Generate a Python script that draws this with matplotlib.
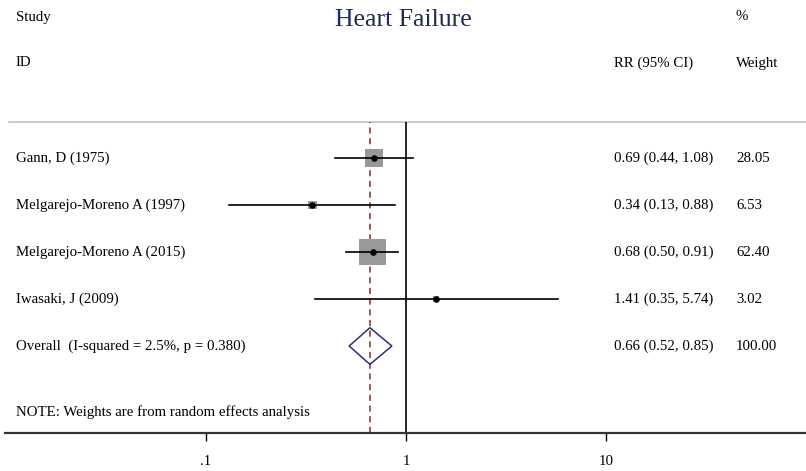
# Forest plot - Heart Failure
import numpy as np
import matplotlib.pyplot as plt
from matplotlib import transforms

plt.rcParams['font.family'] = ['Liberation Serif', 'DejaVu Serif']

studies = ["Gann, D (1975)", "Melgarejo-Moreno A (1997)",
           "Melgarejo-Moreno A (2015)", "Iwasaki, J (2009)"]
rr = [0.69, 0.34, 0.68, 1.41]
lo = [0.44, 0.13, 0.50, 0.35]
hi = [1.08, 0.88, 0.91, 5.74]
weights = [28.05, 6.53, 62.40, 3.02]

overall_label = "Overall  (I-squared = 2.5%, p = 0.380)"
overall_rr, overall_lo, overall_hi = 0.66, 0.52, 0.85
overall_weight = 100.00

ticks = [0.1, 1, 10]
tick_labels = [".1", "1", "10"]

W, H = 806, 471
fig = plt.figure(figsize=(W / 100, H / 100), dpi=100)
# axes from the top rule (y=122 px) down to the axis line (y=433 px)
ax = fig.add_axes([0, 1 - 433 / H, 1, (433 - 122) / H])
ax.set_xscale('log')
xmin, xmax = 10 ** (-406 / 200), 10 ** ((W - 406) / 200)
ax.set_xlim(xmin, xmax)
ax.set_ylim(5.85, -0.766)

for s in ['top', 'right', 'left']:
    ax.spines[s].set_visible(False)
ax.spines['bottom'].set_linewidth(1.6)
ax.spines['bottom'].set_color('#333333')
ax.spines['bottom'].set_bounds(10 ** ((5 - 406) / 200), xmax)
ax.set_yticks([])
ax.set_xticks(ticks)
ax.set_xticklabels(tick_labels, fontsize=10.7)
ax.minorticks_off()
ax.tick_params(axis='x', length=6, width=1, pad=10)

# top rule
ax.axhline(-0.766, xmin=9 / W, xmax=1, color='#c0c0c0', lw=1.2, clip_on=False)

# null line and overall line
ax.axvline(1, color='black', lw=1.2)
ax.axvline(overall_rr, color='#8b2a2a', lw=1.1, ls=(0, (4, 3)))

rows = np.arange(len(studies))
for i in rows:
    side_px = 3.3 * np.sqrt(weights[i])
    ax.scatter(rr[i], i, marker='s', s=(side_px * 0.72) ** 2,
               color='#999999', edgecolors='none', zorder=2)
    ax.plot([lo[i], hi[i]], [i, i], color='black', lw=1.2, zorder=3)
    ax.scatter(rr[i], i, marker='o', s=14, color='black', zorder=4)

# overall diamond
yo = len(studies)
ax.fill([overall_lo, overall_rr, overall_hi, overall_rr, overall_lo],
        [yo, yo - 0.39, yo, yo + 0.39, yo],
        facecolor='none', edgecolor='#2b2f7a', lw=1.1, zorder=5)

tr = transforms.blended_transform_factory(ax.transAxes, ax.transData)
fs = 10.7
for i in rows:
    ax.text(16 / W, i, studies[i], transform=tr, fontsize=fs, va='center')
    ax.text(614 / W, i, "%.2f (%.2f, %.2f)" % (rr[i], lo[i], hi[i]),
            transform=tr, fontsize=fs, va='center')
    ax.text(736 / W, i, "%.2f" % weights[i], transform=tr, fontsize=fs, va='center')

ax.text(16 / W, yo, overall_label, transform=tr, fontsize=fs, va='center')
ax.text(614 / W, yo, "%.2f (%.2f, %.2f)" % (overall_rr, overall_lo, overall_hi),
        transform=tr, fontsize=fs, va='center')
ax.text(736 / W, yo, "%.2f" % overall_weight, transform=tr, fontsize=fs, va='center')

ax.text(16 / W, 5.40, "NOTE: Weights are from random effects analysis",
        transform=tr, fontsize=fs, va='center')

# headers
fig.text(16 / W, 1 - 17 / H, "Study", fontsize=fs, va='center')
fig.text(16 / W, 1 - 63 / H, "ID", fontsize=fs, va='center')
fig.text(736 / W, 1 - 17 / H, "%", fontsize=fs, va='center')
fig.text(614 / W, 1 - 63 / H, "RR (95% CI)", fontsize=fs, va='center')
fig.text(736 / W, 1 - 63 / H, "Weight", fontsize=fs, va='center')
fig.text(403 / W, 1 - 20 / H, "Heart Failure", fontsize=18.5, color='#1f2a5a',
         ha='center', va='center')

fig.savefig('out.png', dpi=100)
